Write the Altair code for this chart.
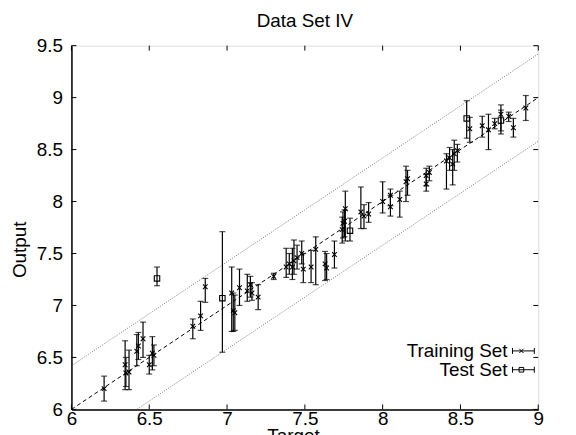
import altair as alt
import pandas as pd

# ---- data ----
train_x = [6.21, 6.345, 6.35, 6.37, 6.42, 6.43, 6.46, 6.50, 6.52, 6.53,
           6.78, 6.83, 6.86, 7.03, 7.04, 7.05, 7.08, 7.13, 7.15, 7.16,
           7.20, 7.30, 7.38, 7.40, 7.42, 7.43, 7.45, 7.48, 7.49, 7.54,
           7.57, 7.63, 7.64, 7.69, 7.74, 7.745, 7.755, 7.76, 7.86, 7.88,
           7.91, 8.00, 8.05, 8.05, 8.11, 8.15, 8.16, 8.28, 8.28, 8.30,
           8.41, 8.43, 8.45, 8.46, 8.48, 8.56, 8.64, 8.68, 8.72, 8.76,
           8.81, 8.84, 8.92]
train_y = [6.20, 6.43, 6.35, 6.36, 6.56, 6.61, 6.68, 6.43, 6.54, 6.52,
           6.80, 6.90, 7.18, 7.12, 6.95, 6.93, 7.17, 7.14, 7.20, 7.12,
           7.08, 7.28, 7.37, 7.40, 7.37, 7.43, 7.46, 7.50, 7.35, 7.37,
           7.54, 7.40, 7.36, 7.49, 7.73, 7.79, 7.81, 7.93, 7.90, 7.86,
           7.88, 8.00, 8.06, 7.95, 8.02, 8.19, 8.22, 8.25, 8.17, 8.28,
           8.39, 8.42, 8.36, 8.46, 8.49, 8.70, 8.73, 8.69, 8.75, 8.84,
           8.82, 8.71, 8.90]
train_lo = [6.08, 6.19, 6.22, 6.19, 6.42, 6.48, 6.50, 6.34, 6.38, 6.42,
            6.68, 6.76, 7.03, 6.75, 6.75, 6.76, 7.00, 7.04, 7.08, 7.05,
            6.96, 7.25, 7.27, 7.30, 7.25, 7.30, 7.35, 7.40, 7.22, 7.22,
            7.20, 7.24, 7.25, 7.36, 7.60, 7.65, 7.66, 7.62, 7.74, 7.74,
            7.80, 7.89, 7.96, 7.86, 7.85, 8.00, 8.06, 8.15, 8.10, 8.20,
            8.12, 8.30, 8.16, 8.30, 8.38, 8.57, 8.62, 8.50, 8.70, 8.68,
            8.77, 8.62, 8.78]
train_hi = [6.32, 6.66, 6.50, 6.57, 6.72, 6.74, 6.84, 6.52, 6.70, 6.62,
            6.87, 7.04, 7.26, 7.37, 7.12, 7.10, 7.35, 7.30, 7.28, 7.22,
            7.20, 7.31, 7.55, 7.50, 7.55, 7.63, 7.58, 7.62, 7.50, 7.53,
            7.66, 7.52, 7.50, 7.62, 7.85, 7.90, 7.92, 8.10, 8.14, 7.97,
            7.99, 8.19, 8.12, 8.06, 8.10, 8.34, 8.30, 8.32, 8.26, 8.34,
            8.46, 8.52, 8.50, 8.59, 8.55, 8.81, 8.82, 8.84, 8.80, 8.93,
            8.86, 8.80, 9.02]

test_x = [6.55, 6.97, 7.79, 8.54, 8.76]
test_y = [7.26, 7.07, 7.72, 8.80, 8.78]
test_lo = [7.19, 6.55, 7.62, 8.61, 8.65]
test_hi = [7.37, 7.71, 7.84, 8.97, 8.88]

line_x = [6.0, 9.0]
band = 0.42

x_ticks = [6, 6.5, 7, 7.5, 8, 8.5, 9]
y_ticks = [6, 6.5, 7, 7.5, 8, 8.5, 9, 9.5]

legend_labels = ["Training Set", "Test Set"]

# ---- build ----
W, H = 471, 367
FONT = "Liberation Sans"
FS = 19
xs = alt.Scale(domain=[6, 9], nice=False, zero=False)
ys = alt.Scale(domain=[6, 9.5], nice=False, zero=False)

train = pd.DataFrame({"x": train_x, "y": train_y, "lo": train_lo, "hi": train_hi})
test = pd.DataFrame({"x": test_x, "y": test_y, "lo": test_lo, "hi": test_hi})
lines = pd.DataFrame({
    "x": line_x * 3,
    "y": [v for v in line_x] + [v + band for v in line_x] + [v - band for v in line_x],
    "k": ["mid", "mid", "up", "up", "low", "low"],
})

X = alt.X("x:Q", scale=xs, title="Target",
          axis=alt.Axis(values=x_ticks, format="~g", ticks=False, grid=False,
                        labelFont=FONT, labelFontSize=FS, labelColor="black",
                        labelPadding=0, titleFont=FONT, titleFontSize=FS,
                        titleFontWeight="normal", titleColor="black",
                        titleX=W / 2 - 12, titleY=32, titleBaseline="alphabetic",
                        domainColor="black", domainWidth=1.5, labelFlush=False))
Y = alt.Y("y:Q", scale=ys, title="Output",
          axis=alt.Axis(values=y_ticks, format="~g", ticks=False, grid=False,
                        labelFont=FONT, labelFontSize=FS, labelColor="black",
                        labelPadding=9, titleFont=FONT, titleFontSize=FS,
                        titleFontWeight="normal", titleColor="black",
                        titleX=-52, titleY=H / 2 + 22, titleAlign="center",
                        titleBaseline="middle",
                        domainColor="black", domainWidth=1.5, labelFlush=False))

base_lines = alt.Chart(lines).encode(x=X, y=Y, detail="k:N")
mid = base_lines.transform_filter(alt.datum.k == "mid").mark_line(
    color="black", strokeWidth=1, strokeDash=[4, 3], clip=True)
bands = base_lines.transform_filter(alt.datum.k != "mid").mark_line(
    color="#555555", strokeWidth=0.8, strokeDash=[1, 1.5], clip=True)


def errbars(df, shape, size):
    b = alt.Chart(df)
    rule = b.mark_rule(color="black", strokeWidth=1.2).encode(
        x=alt.X("x:Q", scale=xs), y=alt.Y("lo:Q", scale=ys), y2="hi:Q")
    cap_lo = b.mark_tick(color="black", orient="horizontal", size=6, thickness=1.2).encode(
        x=alt.X("x:Q", scale=xs), y=alt.Y("lo:Q", scale=ys))
    cap_hi = b.mark_tick(color="black", orient="horizontal", size=6, thickness=1.2).encode(
        x=alt.X("x:Q", scale=xs), y=alt.Y("hi:Q", scale=ys))
    pts = b.mark_point(shape=shape, size=size, color="black", filled=False,
                       strokeWidth=1.1, opacity=1).encode(
        x=alt.X("x:Q", scale=xs), y=alt.Y("y:Q", scale=ys))
    return rule + cap_lo + cap_hi + pts


XSHAPE = "M-1,-1L1,1M-1,1L1,-1"
train_layer = errbars(train, XSHAPE, 22)
test_layer = errbars(test, "square", 30)

# inward ticks on all four sides
xt = pd.DataFrame({"x": x_ticks})
yt = pd.DataFrame({"y": y_ticks})
tick_b = alt.Chart(xt).mark_rule(color="black", strokeWidth=1).encode(
    x=alt.X("x:Q", scale=xs), y=alt.value(H), y2=alt.value(H - 5))
tick_t = alt.Chart(xt).mark_rule(color="black", strokeWidth=1).encode(
    x=alt.X("x:Q", scale=xs), y=alt.value(0), y2=alt.value(5))
tick_l = alt.Chart(yt).mark_rule(color="black", strokeWidth=1).encode(
    y=alt.Y("y:Q", scale=ys), x=alt.value(0), x2=alt.value(5))
tick_r = alt.Chart(yt).mark_rule(color="black", strokeWidth=1).encode(
    y=alt.Y("y:Q", scale=ys), x=alt.value(W), x2=alt.value(W - 5))

# legend (manual)
LX_TEXT = W - 31
LY = [308, 327]
leg_layers = []
for i, shp, sz in [(0, XSHAPE, 18), (1, "square", 22)]:
    d = alt.Chart(pd.DataFrame({"label": [legend_labels[i]]}))
    leg_layers.append(d.mark_text(font=FONT, fontSize=FS, align="right",
                                  baseline="middle", color="black").encode(
        text="label:N", x=alt.value(LX_TEXT), y=alt.value(LY[i])))
    leg_layers.append(d.mark_rule(color="black", strokeWidth=1).encode(
        x=alt.value(LX_TEXT + 5), x2=alt.value(LX_TEXT + 27), y=alt.value(LY[i])))
    leg_layers.append(d.mark_rule(color="black", strokeWidth=1).encode(
        x=alt.value(LX_TEXT + 5), x2=alt.value(LX_TEXT + 5),
        y=alt.value(LY[i] - 3), y2=alt.value(LY[i] + 3)))
    leg_layers.append(d.mark_rule(color="black", strokeWidth=1).encode(
        x=alt.value(LX_TEXT + 27), x2=alt.value(LX_TEXT + 27),
        y=alt.value(LY[i] - 3), y2=alt.value(LY[i] + 3)))
    leg_layers.append(d.mark_point(shape=shp, size=sz, color="black", filled=False,
                                   strokeWidth=1, opacity=1).encode(
        x=alt.value(LX_TEXT + 14), y=alt.value(LY[i])))

chart = alt.layer(
    bands, mid, train_layer, test_layer, tick_b, tick_t, tick_l, tick_r,
    *leg_layers
).properties(
    width=W, height=H,
    title=alt.TitleParams("Data Set IV", font=FONT, fontSize=FS,
                          fontWeight="normal", color="black", offset=6),
    autosize=alt.AutoSizeParams(type="none"),
    padding={"left": 64, "top": 36, "right": 30, "bottom": 40},
).configure_view(stroke="black", strokeWidth=1.5).configure(background="white")

chart.save("out.html", embed_options={"renderer": "svg", "actions": False})
